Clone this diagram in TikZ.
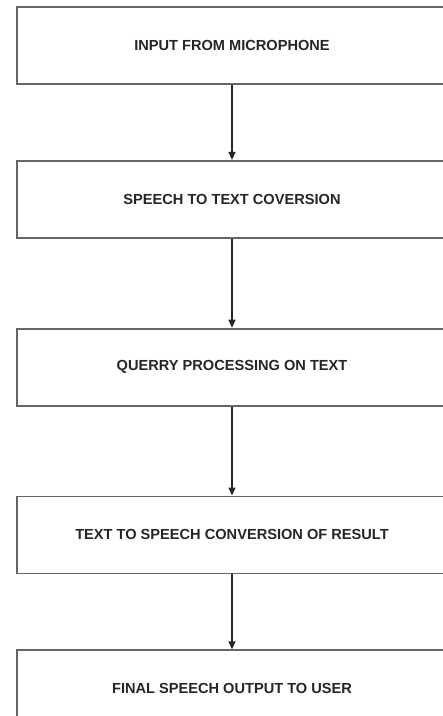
\documentclass[tikz,border=0pt]{standalone}
\usepackage{fontspec}
\setmainfont{Liberation Sans}
\usepackage{tikz}
\usetikzlibrary{positioning, arrows.meta}
\tikzset{>={Triangle[length=8pt,width=7pt]}}
\tikzset{
  stage/.style={draw=black!60, line width=1.8pt, fill=white, minimum width=430pt, minimum height=77pt,
    inner sep=0pt, font=\bfseries\fontsize{14.6}{16}\selectfont, text=black!85},
  flow/.style={->, line width=1.4pt, draw=black!85}
}

\begin{document}
\begin{tikzpicture}[x=1pt,y=-1pt]
	\clip (0,0) rectangle (443,716);
	\fill[white] (0,0) rectangle (443,716);
	\node [stage] (mic) at (232,45.5) {INPUT FROM MICROPHONE};
	\node [stage, below=75pt of mic] (stt) {SPEECH TO TEXT COVERSION};
	\node [stage, below=89pt of stt] (query) {QUERRY PROCESSING ON TEXT};
	\node [stage, below=89pt of query] (tts) {TEXT TO SPEECH CONVERSION OF RESULT};
	\node [stage, below=75pt of tts] (out) {FINAL SPEECH OUTPUT TO USER};
	\draw [flow] (mic) -- (stt);
	\draw [flow] (stt) -- (query);
	\draw [flow] (query) -- (tts);
	\draw [flow] (tts) -- (out);
\end{tikzpicture}
\end{document}
